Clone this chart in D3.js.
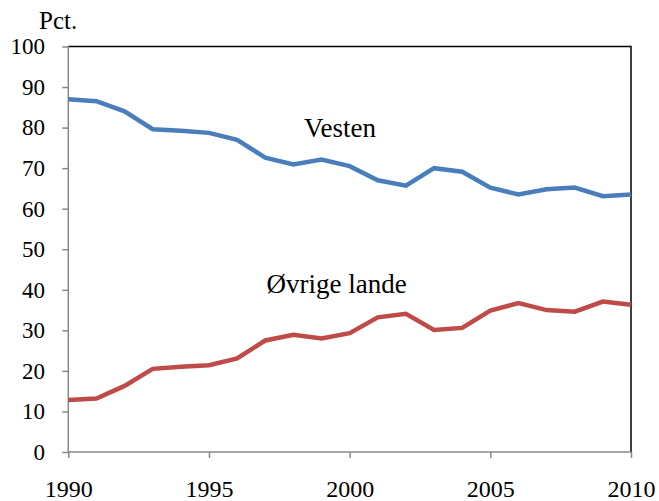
<!DOCTYPE html>
<html>
<head>
<meta charset="utf-8">
<script src="https://cdn.jsdelivr.net/npm/d3@7"></script>
<style>
  body { margin: 0; background: #fff; }
</style>
</head>
<body>
<div id="chart"></div>
<script>
// data
var years = d3.range(1990, 2011);
var vesten = [87.0, 86.5, 84.0, 79.6, 79.2, 78.7, 77.0, 72.6, 70.9, 72.1, 70.5, 67.0, 65.7, 70.0, 69.1, 65.2, 63.5, 64.8, 65.2, 63.1, 63.5];
var ovrige = [12.8, 13.2, 16.3, 20.5, 21.0, 21.4, 23.1, 27.5, 28.9, 28.0, 29.3, 33.2, 34.1, 30.1, 30.6, 34.9, 36.7, 35.0, 34.6, 37.1, 36.3];
var yTicks = [0, 10, 20, 30, 40, 50, 60, 70, 80, 90, 100];
var xTicks = [1990, 1995, 2000, 2005, 2010];

var W = 659, H = 501;
var margin = {top: 46.5, right: 28, bottom: 49, left: 68.3};
var FONT = "'Liberation Serif', 'Times New Roman', serif";

var svg = d3.select("#chart").append("svg")
  .attr("width", W).attr("height", H)
  .attr("font-family", FONT);

var x = d3.scaleLinear().domain([1990, 2010]).range([margin.left, W - margin.right]);
var y = d3.scaleLinear().domain([0, 100]).range([H - margin.bottom, margin.top]);

// top and right border
svg.append("path")
  .attr("d", "M" + x(1990) + "," + y(100) + "H" + x(2010) + "V" + y(0))
  .attr("fill", "none").attr("stroke", "#000").attr("stroke-width", 1.5);

// y axis
var yAxis = svg.append("g")
  .attr("transform", "translate(" + x(1990) + ",0)")
  .call(d3.axisLeft(y).tickValues(yTicks).tickSize(6).tickPadding(17.3));
yAxis.attr("font-family", FONT).attr("font-size", 23);
yAxis.selectAll("line, path").attr("stroke", "#888").attr("stroke-width", 1.5);
yAxis.select(".domain").attr("d", "M0," + y(0) + "V" + y(100));
yAxis.selectAll("text").attr("fill", "#000");

// x axis
var xAxis = svg.append("g")
  .attr("transform", "translate(0," + y(0) + ")")
  .call(d3.axisBottom(x).tickValues(xTicks).tickFormat(d3.format("d")).tickSize(6).tickPadding(21.7));
xAxis.attr("font-family", FONT).attr("font-size", 24);
xAxis.selectAll("line, path").attr("stroke", "#888").attr("stroke-width", 1.5);
xAxis.select(".domain").attr("d", "M" + x(1990) + ",0H" + x(2010));
xAxis.selectAll("text").attr("fill", "#000");

// lines
var line = d3.line()
  .x(function(d, i) { return x(years[i]); })
  .y(function(d) { return y(d); });

svg.append("path").datum(vesten)
  .attr("d", line).attr("fill", "none")
  .attr("stroke", "#4a7ebb").attr("stroke-width", 4.5);

svg.append("path").datum(ovrige)
  .attr("d", line).attr("fill", "none")
  .attr("stroke", "#be4b48").attr("stroke-width", 4.5);

// labels
svg.append("text").attr("x", 39).attr("y", 29)
  .attr("font-size", 25).text("Pct.");

svg.append("text").attr("x", 304).attr("y", 136.7)
  .attr("font-size", 27).text("Vesten");

svg.append("text").attr("x", 266.5).attr("y", 293.3)
  .attr("font-size", 27).text("Øvrige lande");
</script>
</body>
</html>
